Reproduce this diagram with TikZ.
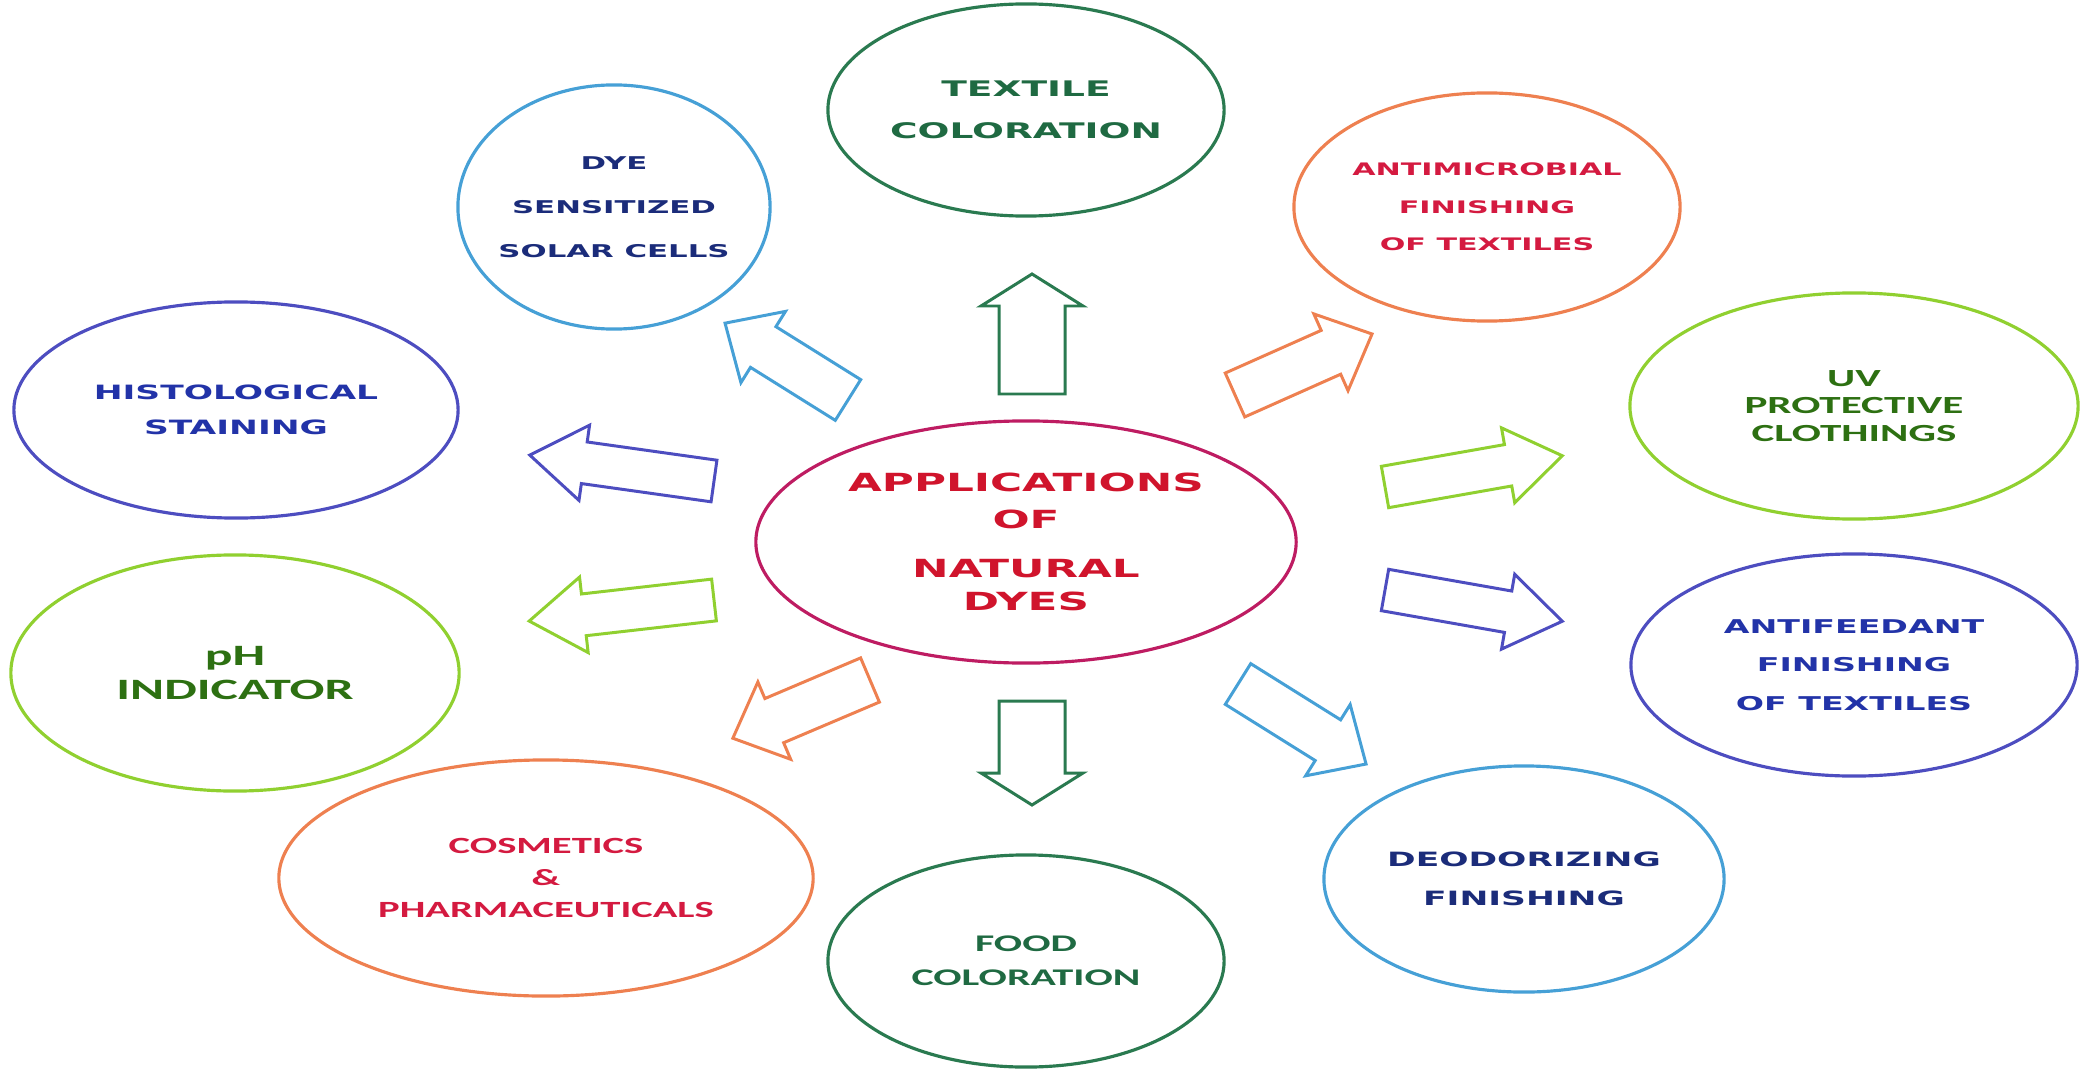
\documentclass[tikz,border=0pt]{standalone}
\usepackage{fontspec}
\usepackage{xcolor}
\usepackage{tikz}
\usetikzlibrary{shapes.geometric, positioning}

% wide bold faces for the labels
\newfontfamily\wideface[FakeStretch=1.75]{DejaVu Sans}
\newfontfamily\calface[FakeStretch=1.75]{Carlito}

\definecolor{hubring}{HTML}{BE1C62}
\definecolor{hubtext}{HTML}{D0142C}
\definecolor{forest}{HTML}{2A7A50}
\definecolor{forestdark}{HTML}{1F6A42}
\definecolor{sky}{HTML}{46A0D6}
\definecolor{navy}{HTML}{1B2C7A}
\definecolor{tangerine}{HTML}{EE8050}
\definecolor{crimson}{HTML}{D41A40}
\definecolor{violet}{HTML}{4D4DC0}
\definecolor{royal}{HTML}{2233A8}
\definecolor{lime}{HTML}{90D030}
\definecolor{leaf}{HTML}{2D7012}

\begin{document}
\begin{tikzpicture}[
    x=0.01cm, y=-0.01cm,
    app/.style 2 args={
        ellipse,
        draw=#1,
        text=#2,
        line width=0.9pt,
        inner xsep=-6pt,
        inner ysep=0pt,
        align=center
    },
    pointer/.style={line width=0.85pt, line join=miter, fill=white},
    pics/blockarrow/.style 2 args={code={
        \draw[pointer, draw=#1] (0,-\shaftw) -- ({#2-\headl},-\shaftw) -- ({#2-\headl},-\headw)
            -- (#2,0) -- ({#2-\headl},\headw) -- ({#2-\headl},\shaftw) -- (0,\shaftw) -- cycle;
    }}
]
    \useasboundingbox (0,0) rectangle (2082,1070);

    % Central topic
    \node[app={hubring}{hubtext}, minimum width=5.40cm, minimum height=2.42cm,
          font=\wideface\bfseries\fontsize{7.1}{9.4}\selectfont] (hub) at (1026,542)
          {APPLICATIONS\\[1pt] OF\\[4.5pt] NATURAL\\ DYES};

    % Applications around the hub
    \node[app={forest}{forestdark}, minimum width=3.96cm, minimum height=2.12cm,
          font=\wideface\bfseries\fontsize{6.1}{11.8}\selectfont] (textile) at (1026,110)
          {TEXTILE\\ COLORATION};
    \node[app={sky}{navy}, minimum width=3.12cm, minimum height=2.44cm,
          font=\wideface\bfseries\fontsize{5}{12.5}\selectfont] (dssc) at (614,207)
          {DYE\\ SENSITIZED\\ SOLAR CELLS};
    \node[app={tangerine}{crimson}, minimum width=3.86cm, minimum height=2.28cm,
          font=\wideface\bfseries\fontsize{4.9}{10.7}\selectfont] (antimicrobial) at (1487,207)
          {ANTIMICROBIAL\\ FINISHING\\ OF TEXTILES};
    \node[app={lime}{leaf}, minimum width=4.48cm, minimum height=2.26cm,
          font=\calface\bfseries\fontsize{7}{7.9}\selectfont] (uv) at (1854,406)
          {UV\\ PROTECTIVE\\ CLOTHINGS};
    \node[app={violet}{royal}, minimum width=4.46cm, minimum height=2.22cm,
          font=\wideface\bfseries\fontsize{5.4}{11}\selectfont] (antifeedant) at (1854,665)
          {ANTIFEEDANT\\ FINISHING\\ OF TEXTILES};
    \node[app={sky}{navy}, minimum width=4.00cm, minimum height=2.26cm,
          font=\wideface\bfseries\fontsize{5.6}{11}\selectfont] (deodor) at (1524,879)
          {DEODORIZING\\ FINISHING};
    \node[app={forest}{forestdark}, minimum width=3.96cm, minimum height=2.12cm,
          font=\calface\bfseries\fontsize{6.8}{9.6}\selectfont] (food) at (1026,961)
          {FOOD\\ COLORATION};
    \node[app={tangerine}{crimson}, minimum width=5.34cm, minimum height=2.36cm,
          font=\calface\bfseries\fontsize{6.6}{9}\selectfont] (cosmetics) at (546,878)
          {COSMETICS\\ \&\\ PHARMACEUTICALS};
    \node[app={lime}{leaf}, minimum width=4.48cm, minimum height=2.36cm,
          font=\calface\bfseries\fontsize{8.4}{9.4}\selectfont] (ph) at (235,673)
          {pH\\ INDICATOR};
    \node[app={violet}{royal}, minimum width=4.44cm, minimum height=2.16cm,
          font=\wideface\bfseries\fontsize{5.6}{10}\selectfont] (histo) at (236,410)
          {HISTOLOGICAL\\ STAINING};

    % Block arrows pointing out of the hub
    \def\shaftw{33} \def\headw{51} \def\headl{32}
    \pic[rotate=90] at (1032,394) {blockarrow={forest}{120}};
    \pic[rotate=-90] at (1032,701) {blockarrow={forest}{104}};

    \def\shaftw{24} \def\headw{42} \def\headl{45}
    \pic[rotate=148] at (848,400) {blockarrow={sky}{145}};
    \pic[rotate=203] at (870,680) {blockarrow={tangerine}{149}};
    \pic[rotate=24] at (1235,395) {blockarrow={tangerine}{150}};
    \pic[rotate=-32] at (1238,684) {blockarrow={sky}{151}};

    \def\shaftw{21} \def\headw{38} \def\headl{55}
    \pic[rotate=172] at (714,481) {blockarrow={violet}{186}};
    \pic[rotate=186.5] at (714,600) {blockarrow={lime}{186}};
    \pic[rotate=10] at (1385,487) {blockarrow={lime}{180}};
    \pic[rotate=-10] at (1385,590) {blockarrow={violet}{180}};

\end{tikzpicture}
\end{document}
